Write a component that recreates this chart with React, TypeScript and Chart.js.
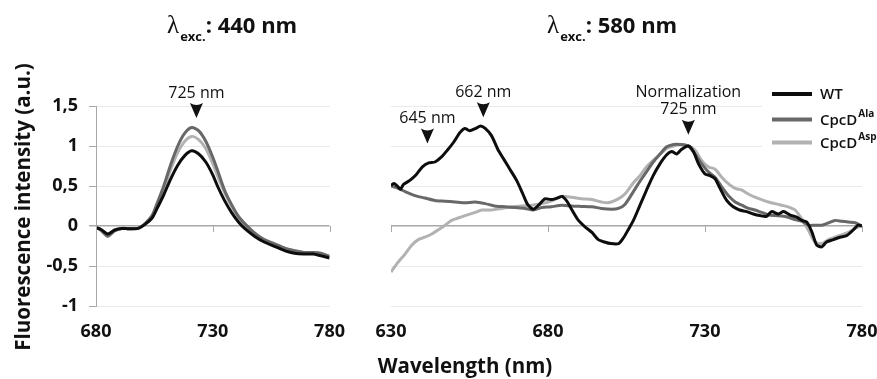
import React, { useEffect, useRef } from "react";
import { Chart, registerables } from "chart.js";

Chart.register(...registerables);

const FONT = "'Open Sans', 'DejaVu Sans', sans-serif";
const INK = "#111111";
const AXIS_GRAY = "#a8a8a8";
const GRID_GRAY = "#e9e9e9";

// Series
const seriesLabels = ["WT", "CpcD", "CpcD"];
const seriesSup = ["", "Ala", "Asp"];
const seriesColors = ["#0d0d0d", "#686868", "#b2b2b2"];

// Axes
const yTickValues = [-1, -0.5, 0, 0.5, 1, 1.5];
const yTickLabels = ["-1", "-0,5", "0", "0,5", "1", "1,5"];
const leftXTicks = [680, 730, 780];
const rightXTicks = [630, 680, 730, 780];

// Left panel: excitation 440 nm
const leftNm = [680, 682, 685, 688, 691, 694, 698, 701, 704, 706, 709, 712, 715, 718, 721, 724, 727, 730, 732, 735, 738, 741, 744, 748, 752, 757, 761, 765, 769, 773, 776, 780];
const leftWT = [-0.02, -0.04, -0.1, -0.05, -0.03, -0.035, -0.03, 0.02, 0.1, 0.21, 0.39, 0.59, 0.76, 0.88, 0.94, 0.9, 0.8, 0.64, 0.5, 0.32, 0.17, 0.05, -0.04, -0.13, -0.2, -0.26, -0.31, -0.34, -0.35, -0.35, -0.37, -0.4];
const leftAla = [-0.02, -0.05, -0.13, -0.06, -0.03, -0.035, -0.03, 0.03, 0.13, 0.27, 0.5, 0.77, 1.0, 1.16, 1.23, 1.19, 1.06, 0.86, 0.7, 0.45, 0.27, 0.12, 0.02, -0.09, -0.17, -0.23, -0.28, -0.31, -0.33, -0.33, -0.34, -0.38];
const leftAsp = [-0.02, -0.05, -0.12, -0.06, -0.03, -0.035, -0.03, 0.03, 0.12, 0.25, 0.46, 0.71, 0.92, 1.06, 1.12, 1.08, 0.97, 0.78, 0.63, 0.42, 0.25, 0.11, 0.01, -0.1, -0.17, -0.23, -0.28, -0.31, -0.33, -0.33, -0.34, -0.38];

// Right panel: excitation 580 nm
const rightWTNm = [630, 631, 632, 633, 634, 636, 638, 640, 642, 644, 646, 648, 650, 652, 653.5, 655, 657, 658.5, 660, 662, 664, 666, 668, 670, 672, 673.5, 675.3, 677, 679, 681, 683, 684.5, 686, 687.5, 689.7, 691.8, 694, 696, 698, 700, 702.5, 704, 705.5, 707.2, 709.3, 711.4, 713.5, 715.7, 717.8, 719.4, 721, 722.6, 724.7, 726.3, 727.9, 730, 731.6, 733.2, 734.8, 736.9, 739, 741, 743.3, 745.4, 747.5, 749.6, 751.2, 753.4, 755, 757, 759.2, 760.8, 762.4, 764, 765.6, 767.2, 768.7, 770.9, 773, 775.1, 777.2, 778.8, 780];
const rightWT = [0.51, 0.53, 0.5, 0.46, 0.52, 0.57, 0.64, 0.74, 0.79, 0.8, 0.86, 0.95, 1.05, 1.17, 1.22, 1.19, 1.22, 1.25, 1.22, 1.13, 0.96, 0.83, 0.7, 0.57, 0.4, 0.27, 0.21, 0.26, 0.34, 0.33, 0.35, 0.37, 0.31, 0.21, 0.07, -0.01, -0.08, -0.17, -0.2, -0.22, -0.22, -0.15, -0.05, 0.07, 0.26, 0.45, 0.63, 0.78, 0.89, 0.93, 0.9, 0.96, 1.0, 0.93, 0.78, 0.65, 0.63, 0.59, 0.47, 0.32, 0.24, 0.2, 0.18, 0.15, 0.13, 0.12, 0.18, 0.15, 0.18, 0.14, 0.11, 0.07, 0.05, -0.07, -0.24, -0.26, -0.2, -0.17, -0.14, -0.12, -0.05, 0.01, 0.0];

const rightAlaNm = [630, 632.3, 634.5, 637.6, 640.8, 644, 647.2, 650.4, 653.6, 656.8, 660, 663, 666.3, 669.5, 672.7, 675.3, 678, 681, 684.4, 687.5, 690.7, 694, 697, 700.3, 702.4, 704.5, 707.2, 709.3, 711.4, 713.5, 715.7, 717.8, 720, 722, 724.7, 726.8, 728.9, 731, 733.2, 735.3, 737.4, 739.6, 741.7, 743.8, 745.9, 748, 750.2, 752.3, 754.4, 756.5, 758.7, 760.8, 762.9, 765, 767.2, 769.3, 771.4, 773.5, 775.6, 777.8, 780];
const rightAla = [0.5, 0.47, 0.43, 0.38, 0.35, 0.32, 0.31, 0.3, 0.29, 0.3, 0.28, 0.25, 0.24, 0.23, 0.22, 0.2, 0.23, 0.24, 0.26, 0.25, 0.245, 0.24, 0.22, 0.21, 0.22, 0.27, 0.43, 0.56, 0.68, 0.8, 0.9, 0.99, 1.02, 1.02, 1.0, 0.9, 0.78, 0.68, 0.61, 0.49, 0.38, 0.3, 0.26, 0.22, 0.2, 0.17, 0.14, 0.13, 0.125, 0.11, 0.08, 0.06, 0.01, 0.01, 0.01, 0.04, 0.07, 0.06, 0.05, 0.04, 0.0];

const rightAspNm = [630, 632.3, 634.5, 636.6, 638.7, 640.8, 643, 645, 647.2, 649.3, 651.4, 653.6, 656.8, 658.9, 662, 665.2, 668.4, 671.6, 674.8, 678, 681, 684.4, 687.5, 690.7, 694, 697, 699.2, 702.4, 704.5, 707.2, 709.3, 711.4, 713.5, 715.7, 717.8, 720, 722, 724.7, 726.8, 728.9, 731, 733.2, 735.3, 737.4, 739.6, 741.7, 743.8, 745.9, 748, 750.2, 752.3, 754.4, 756.5, 758.7, 760.8, 762.9, 765, 767.2, 769.3, 771.4, 773.5, 775.6, 777.8, 780];
const rightAsp = [-0.575, -0.45, -0.35, -0.24, -0.17, -0.14, -0.1, -0.05, 0.01, 0.07, 0.1, 0.13, 0.17, 0.2, 0.2, 0.22, 0.24, 0.25, 0.26, 0.28, 0.31, 0.37, 0.36, 0.34, 0.33, 0.3, 0.29, 0.34, 0.4, 0.54, 0.63, 0.74, 0.82, 0.9, 0.97, 1.0, 1.02, 1.0, 0.95, 0.82, 0.74, 0.71, 0.61, 0.53, 0.47, 0.45, 0.4, 0.36, 0.33, 0.3, 0.28, 0.26, 0.24, 0.2, 0.09, -0.05, -0.2, -0.22, -0.17, -0.14, -0.11, -0.08, -0.03, 0.0];

// Annotations (arrow tip in data coordinates)
const leftAnnotations = [{ lines: ["725 nm"], nm: 723, value: 1.35 }];
const rightAnnotations = [
  { lines: ["645 nm"], nm: 641.6, value: 1.03 },
  { lines: ["662 nm"], nm: 659.4, value: 1.36 },
  { lines: ["Normalization", "725 nm"], nm: 724.7, value: 1.14 },
];

type Ann = { lines: string[]; nm: number; value: number };

const decorPlugin = {
  id: "decor",
  beforeDatasetsDraw(chart: any, _a: any, opts: any) {
    if (!opts.legend) return;
    const { ctx, chartArea } = chart;
    ctx.save();
    ctx.fillStyle = "#ffffff";
    ctx.fillRect(chartArea.right - 100, chartArea.top - 30, 240, 84);
    ctx.restore();
  },
  afterDatasetsDraw(chart: any, _a: any, opts: any) {
    const { ctx, chartArea } = chart;
    const xs = chart.scales.x;
    const ys = chart.scales.y;
    const y0 = ys.getPixelForValue(0);
    ctx.save();
    ctx.strokeStyle = AXIS_GRAY;
    ctx.lineWidth = 1;
    for (const t of opts.xTicks as number[]) {
      const x = Math.round(xs.getPixelForValue(t)) + 0.5;
      ctx.beginPath();
      ctx.moveTo(x, y0);
      ctx.lineTo(x, y0 + 6);
      ctx.stroke();
    }
    ctx.fillStyle = INK;
    ctx.font = `400 16px ${FONT}`;
    ctx.textAlign = "center";
    ctx.textBaseline = "middle";
    for (const a of opts.annotations as Ann[]) {
      const x = xs.getPixelForValue(a.nm);
      const y = ys.getPixelForValue(a.value);
      ctx.beginPath();
      ctx.moveTo(x - 6.5, y - 15);
      ctx.quadraticCurveTo(x, y - 11, x + 6.5, y - 15);
      ctx.lineTo(x, y);
      ctx.closePath();
      ctx.fill();
      const n = a.lines.length;
      a.lines.forEach((line, i) => {
        ctx.fillText(line, x, y - 25 - (n - 1 - i) * 17);
      });
    }
    if (opts.legend) {
      const lx = chartArea.right - 90;
      const rows = [chartArea.top - 12, chartArea.top + 13.5, chartArea.top + 36.5];
      ctx.textAlign = "left";
      rows.forEach((ry, i) => {
        ctx.strokeStyle = seriesColors[i];
        ctx.lineWidth = 4;
        ctx.beginPath();
        ctx.moveTo(lx, ry);
        ctx.lineTo(lx + 40, ry);
        ctx.stroke();
        ctx.fillStyle = INK;
        ctx.font = `600 15px ${FONT}`;
        ctx.textBaseline = "middle";
        ctx.fillText(seriesLabels[i], lx + 48, ry + 1);
        if (seriesSup[i]) {
          const w = ctx.measureText(seriesLabels[i]).width;
          ctx.font = `700 10px ${FONT}`;
          ctx.fillText(seriesSup[i], lx + 48 + w + 1, ry - 5);
        }
      });
    }
    ctx.restore();
  },
};

function makeDatasets(xsArr: number[][], ysArr: number[][]) {
  return ysArr.map((vals, i) => ({
    label: seriesLabels[i] + seriesSup[i],
    data: vals.map((v, j) => ({ x: xsArr[i][j], y: v })),
    borderColor: seriesColors[i],
    backgroundColor: seriesColors[i],
    borderWidth: 3,
    pointRadius: 0,
    tension: 0.25,
    fill: false,
  }));
}

function makeConfig(opts: {
  datasets: any[];
  xMin: number;
  xMax: number;
  xTicks: number[];
  showY: boolean;
  padding: any;
  annotations: Ann[];
  legend: boolean;
}): any {
  const tickFont = { family: FONT, size: 18, weight: "bold" as const };
  return {
    type: "line",
    data: { datasets: opts.datasets },
    plugins: [decorPlugin],
    options: {
      responsive: false,
      animation: false,
      events: [],
      layout: { padding: opts.padding },
      plugins: {
        legend: { display: false },
        tooltip: { enabled: false },
        decor: { xTicks: opts.xTicks, annotations: opts.annotations, legend: opts.legend },
      },
      scales: {
        x: {
          type: "linear",
          min: opts.xMin,
          max: opts.xMax,
          afterBuildTicks: (s: any) => {
            s.ticks = opts.xTicks.map((v) => ({ value: v }));
          },
          afterFit: (s: any) => {
            s.height = 40;
          },
          grid: { display: false, drawTicks: false },
          border: { display: false },
          ticks: { font: tickFont, color: INK, padding: 15, maxRotation: 0, autoSkip: false },
        },
        y: {
          min: -1,
          max: 1.5,
          afterBuildTicks: (s: any) => {
            s.ticks = yTickValues.map((v) => ({ value: v }));
          },
          afterFit: (s: any) => {
            s.width = opts.showY ? 96 : 0;
          },
          grid: {
            color: (c: any) => (c.tick && c.tick.value === 0 ? AXIS_GRAY : GRID_GRAY),
            lineWidth: (c: any) => (c.tick && c.tick.value === 0 ? 1.5 : 1),
            drawTicks: opts.showY,
            tickLength: 7,
            tickColor: AXIS_GRAY,
          },
          border: { display: opts.showY, color: AXIS_GRAY, width: 1 },
          ticks: {
            display: opts.showY,
            font: tickFont,
            color: INK,
            padding: 11,
            callback: (v: any) => {
              const i = yTickValues.indexOf(Number(v));
              return i >= 0 ? yTickLabels[i] : "";
            },
          },
        },
      },
    },
  };
}

export default function App() {
  const leftRef = useRef<HTMLCanvasElement>(null);
  const rightRef = useRef<HTMLCanvasElement>(null);

  useEffect(() => {
    document.body.style.margin = "0";
    const left = new Chart(
      leftRef.current as HTMLCanvasElement,
      makeConfig({
        datasets: makeDatasets([leftNm, leftNm, leftNm], [leftWT, leftAla, leftAsp]),
        xMin: 680,
        xMax: 780,
        xTicks: leftXTicks,
        showY: true,
        padding: { left: 0, top: 106, right: 28, bottom: 33 },
        annotations: leftAnnotations,
        legend: false,
      })
    );
    const right = new Chart(
      rightRef.current as HTMLCanvasElement,
      makeConfig({
        datasets: makeDatasets([rightWTNm, rightAlaNm, rightAspNm], [rightWT, rightAla, rightAsp]),
        xMin: 630,
        xMax: 780,
        xTicks: rightXTicks,
        showY: false,
        padding: { left: 46, top: 106, right: 43, bottom: 33 },
        annotations: rightAnnotations,
        legend: true,
      })
    );
    return () => {
      left.destroy();
      right.destroy();
    };
  }, []);

  const titleStyle: React.CSSProperties = {
    position: "absolute",
    top: 13,
    fontSize: 22,
    lineHeight: "22px",
    fontWeight: 700,
    whiteSpace: "nowrap",
  };
  const lambda: React.CSSProperties = { fontFamily: "'Liberation Serif', serif", fontWeight: 400, fontSize: 25 };
  const sub: React.CSSProperties = { fontSize: 13, position: "relative", top: 8, marginLeft: 1 };

  return (
    <div
      style={{
        position: "absolute",
        left: 0,
        top: 0,
        width: 877,
        height: 379,
        overflow: "hidden",
        background: "#ffffff",
        fontFamily: FONT,
        color: INK,
      }}
    >
      <canvas ref={leftRef} width={360} height={379} style={{ position: "absolute", left: 0, top: 0, width: 360, height: 379 }} />
      <canvas ref={rightRef} width={560} height={379} style={{ position: "absolute", left: 345, top: 0, width: 560, height: 379 }} />
      <div style={{ ...titleStyle, left: 167 }}>
        <span style={lambda}>λ</span>
        <span style={sub}>exc.</span>: 440 nm
      </div>
      <div style={{ ...titleStyle, left: 547 }}>
        <span style={lambda}>λ</span>
        <span style={sub}>exc.</span>: 580 nm
      </div>
      <div
        style={{
          position: "absolute",
          left: 22 - 200,
          top: 207 - 10,
          width: 400,
          height: 20,
          lineHeight: "20px",
          fontSize: 20.5,
          fontWeight: 700,
          textAlign: "center",
          transform: "rotate(-90deg)",
          whiteSpace: "nowrap",
        }}
      >
        Fluorescence intensity (a.u.)
      </div>
      <div
        style={{
          position: "absolute",
          left: 265,
          top: 355,
          width: 400,
          height: 20,
          lineHeight: "20px",
          fontSize: 20.5,
          fontWeight: 700,
          textAlign: "center",
          whiteSpace: "nowrap",
        }}
      >
        Wavelength (nm)
      </div>
    </div>
  );
}
